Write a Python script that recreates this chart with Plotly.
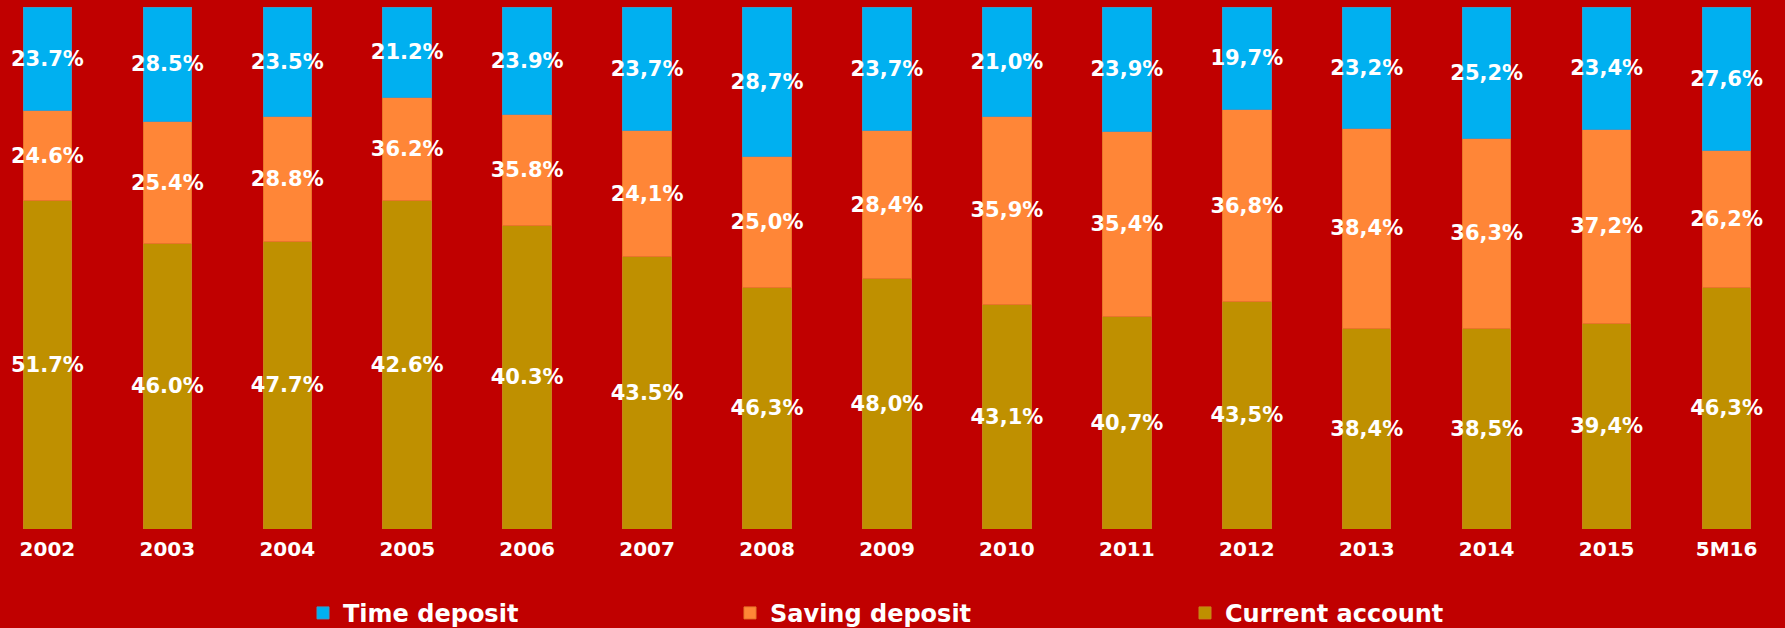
import plotly.graph_objects as go

categories = ["2002", "2003", "2004", "2005", "2006", "2007", "2008", "2009",
              "2010", "2011", "2012", "2013", "2014", "2015", "5M16"]

# bar heights (share of total)
time_vals = [19.9, 22.0, 21.0, 17.3, 20.5, 23.7, 28.7, 23.7, 21.0, 23.9, 19.7, 23.2, 25.2, 23.4, 27.6]
saving_vals = [17.2, 23.3, 23.9, 19.8, 21.4, 24.1, 25.0, 28.4, 35.9, 35.4, 36.8, 38.4, 36.3, 37.2, 26.2]
current_vals = [62.9, 54.7, 55.1, 62.9, 58.1, 52.2, 46.3, 48.0, 43.1, 40.7, 43.5, 38.4, 38.5, 39.4, 46.3]

# data labels as printed on the chart
time_labels = ["23.7%", "28.5%", "23.5%", "21.2%", "23.9%", "23,7%", "28,7%", "23,7%",
               "21,0%", "23,9%", "19,7%", "23,2%", "25,2%", "23,4%", "27,6%"]
saving_labels = ["24.6%", "25.4%", "28.8%", "36.2%", "35.8%", "24,1%", "25,0%", "28,4%",
                 "35,9%", "35,4%", "36,8%", "38,4%", "36,3%", "37,2%", "26,2%"]
current_labels = ["51.7%", "46.0%", "47.7%", "42.6%", "40.3%", "43.5%", "46,3%", "48,0%",
                  "43,1%", "40,7%", "43,5%", "38,4%", "38,5%", "39,4%", "46,3%"]

series = [
    ("Current account", current_vals, current_labels, "#BF9000", "#C8841A", "legend3"),
    ("Saving deposit", saving_vals, saving_labels, "#FF8637", "#E8742A", "legend2"),
    ("Time deposit", time_vals, time_labels, "#00B0F0", "#3A9AC8", "legend"),
]

FONT = "DejaVu Sans"
fig = go.Figure()
for name, vals, labels, color, lcolor, leg in series:
    fig.add_trace(go.Bar(
        x=categories, y=vals, name=name, text=labels,
        textposition="inside", insidetextanchor="middle", textangle=0,
        constraintext="none",
        textfont=dict(family=FONT, size=21, color="white", weight="bold"),
        marker=dict(color=color, line=dict(color=lcolor, width=1)),
        legend=leg,
    ))

legend_common = dict(
    orientation="h", yanchor="middle", y=-0.1615, xanchor="left",
    font=dict(family=FONT, size=24, color="white", weight="bold"),
    bgcolor="rgba(0,0,0,0)", borderwidth=0,
)

fig.update_layout(
    width=1785, height=628,
    barmode="stack", barnorm="percent", bargap=0.596,
    paper_bgcolor="#C00000", plot_bgcolor="#C00000",
    margin=dict(l=0, r=0, t=7, b=99, autoexpand=False),
    uniformtext=dict(mode=False),
    xaxis=dict(
        type="category", range=[-0.395, 14.487],
        showgrid=False, zeroline=False, showline=False, ticks="",
        tickfont=dict(family=FONT, size=20, color="white", weight="bold"),
        ticklabelstandoff=6,
    ),
    yaxis=dict(range=[0, 100], showgrid=False, zeroline=False, showline=False,
               showticklabels=False, ticks=""),
    legend=dict(x=303 / 1785, **legend_common),
    legend2=dict(x=730 / 1785, **legend_common),
    legend3=dict(x=1185 / 1785, **legend_common),
    showlegend=True,
)

fig.write_html("out.html")
